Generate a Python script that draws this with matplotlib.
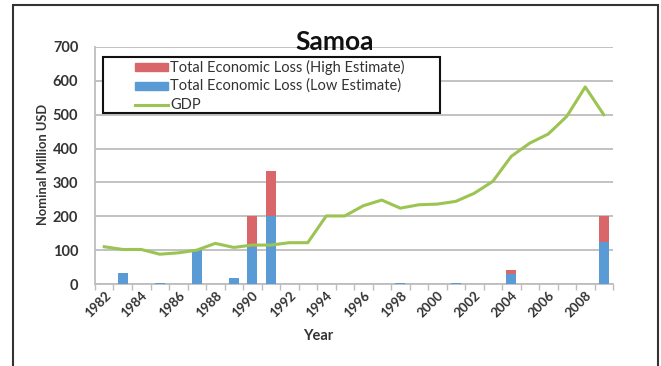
import matplotlib
matplotlib.use("Agg")
import matplotlib.pyplot as plt
from matplotlib.patches import Rectangle
from matplotlib.lines import Line2D
import numpy as np

plt.rcParams['font.family'] = ['Lato', 'DejaVu Sans']

years = list(range(1982, 2010))
gdp = [110, 102, 102, 88, 92, 100, 120, 108, 115, 115, 122, 122, 201, 201,
       231, 248, 224, 234, 236, 244, 268, 303, 377, 416, 443, 495, 582, 500]
loss_high = [0, 0, 0, 0, 0, 0, 0, 0, 200, 333, 0, 0, 0, 0,
             0, 0, 0, 0, 0, 0, 0, 0, 40, 0, 0, 0, 0, 200]
loss_low = [0, 33, 0, 2, 0, 100, 0, 18, 110, 200, 0, 0, 0, 0,
            0, 0, 2, 0, 0, 2, 0, 0, 31, 0, 0, 0, 0, 125]
tick_labels = [str(y) if (y - 1982) % 2 == 0 else "" for y in years]
series_names = ["Total Economic Loss (High Estimate)",
                "Total Economic Loss (Low Estimate)", "GDP"]

RED = "#D9676A"
BLUE = "#5B9BD5"
GREEN = "#9BC453"
TXT = "#333333"

W, H = 661, 366
fig = plt.figure(figsize=(W / 100, H / 100), dpi=100)


def fx(px):
    return px / W


def fy(py):
    return 1 - py / H


# outer frame
fig.patches.append(Rectangle((fx(13), -0.05), fx(658 - 13), 1.05 - 5 / H,
                             transform=fig.transFigure, fill=False,
                             edgecolor="#333333", linewidth=1.5))

ax = fig.add_axes([fx(95), fy(284), fx(613 - 95), (284 - 47) / H])
x = np.arange(len(years))

ax.bar(x, loss_high, width=0.52, color=RED, zorder=2)
ax.bar(x, loss_low, width=0.52, color=BLUE, zorder=3)
ax.plot(x, gdp, color=GREEN, linewidth=2.2, zorder=4)

ax.set_xlim(-0.5, len(years) - 0.5)
ax.set_ylim(0, 700)
ax.set_yticks(range(0, 701, 100))
ax.yaxis.grid(True, color="#BDBDBD", linewidth=1.3, zorder=0)
ax.set_axisbelow(True)
for s in ["top", "right"]:
    ax.spines[s].set_visible(False)
for s in ["left", "bottom"]:
    ax.spines[s].set_color("#BDBDBD")
    ax.spines[s].set_linewidth(1.3)

ax.tick_params(axis="y", length=0, labelsize=10.5, labelcolor=TXT, pad=12)
for t in ax.get_yticklabels():
    t.set_fontweight("bold")

# category boundary ticks and centred year labels
ax.set_xticks(np.arange(-0.5, len(years), 1.0))
ax.set_xticklabels([])
ax.tick_params(axis="x", length=4, color="#BDBDBD", width=1)
ax.set_xticks(x, minor=True)
ax.set_xticklabels(tick_labels, minor=True, rotation=45, ha="right",
                   rotation_mode="anchor", fontsize=9.5, color=TXT,
                   fontweight="bold")
ax.tick_params(axis="x", which="minor", length=0, pad=4)

ax.set_xlabel("Year", fontsize=10.5, fontweight="bold", color=TXT)
ax.xaxis.set_label_coords((318 - 95) / (613 - 95), -(336 - 284) / (284 - 47))
ax.xaxis.label.set_va("center")
ax.set_ylabel("Nominal Million USD", fontsize=9.3, fontweight="bold",
              color=TXT)
ax.yaxis.set_label_coords(-(95 - 43) / (613 - 95), (284 - 164) / (284 - 47))
ax.yaxis.label.set_va("center")

fig.text(fx(335), fy(42), "Samoa", ha="center", va="center",
         fontsize=19, fontweight="bold", color="#111111")

# legend box
fig.patches.append(Rectangle((fx(103), fy(113)), fx(440 - 103), (113 - 57) / H,
                             transform=fig.transFigure, facecolor="white",
                             edgecolor="#111111", linewidth=1.5, zorder=5))
rows = [67, 86, 105]
for col, row in zip([RED, BLUE], rows[:2]):
    fig.patches.append(Rectangle((fx(135), fy(row + 4)), fx(33), 8 / H,
                                 transform=fig.transFigure, color=col, zorder=6))
fig.lines.append(Line2D([fx(135), fx(168)], [fy(rows[2]), fy(rows[2])],
                        transform=fig.transFigure, color=GREEN,
                        linewidth=2.2, zorder=6))
for name, row in zip(series_names, rows):
    fig.text(fx(170), fy(row), name, ha="left", va="center", fontsize=10.5,
             color=TXT, zorder=7)

fig.savefig("out.png", dpi=100)
